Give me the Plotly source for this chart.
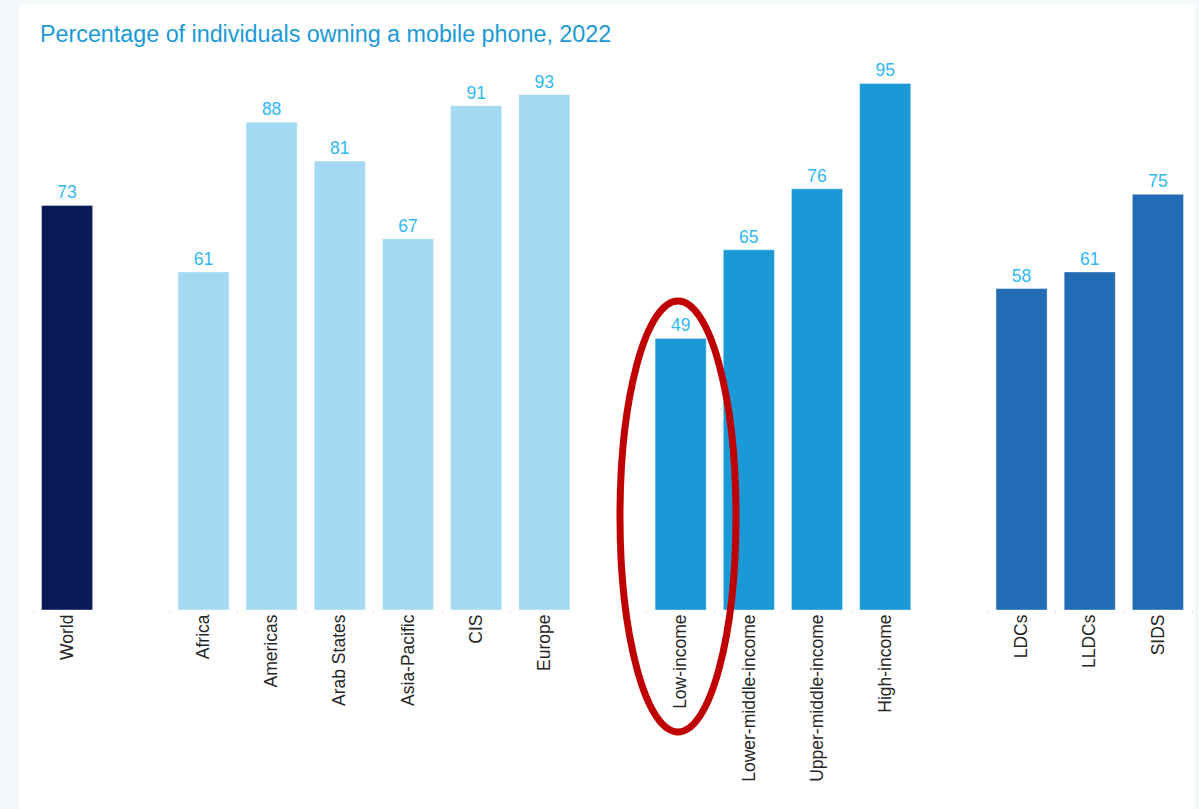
import plotly.graph_objects as go

# Data
world = ["World"]
world_values = [73]
regions = ["Africa", "Americas", "Arab States", "Asia-Pacific", "CIS", "Europe"]
region_values = [61, 88, 81, 67, 91, 93]
income = ["Low-income", "Lower-middle-income", "Upper-middle-income", "High-income"]
income_values = [49, 65, 76, 95]
groups = ["LDCs", "LLDCs", "SIDS"]
group_values = [58, 61, 75]

COL_WORLD = "#081b58"
COL_REGION = "#a3d9f2"
COL_INCOME = "#1a99d6"
COL_GROUP = "#226cb5"

# Empty slots separate the four groups on the category axis
gaps = ["_gap1", "_gap2", "_gap3"]
category_order = world + [gaps[0]] + regions + [gaps[1]] + income + [gaps[2]] + groups

W, H = 1199, 809
L, R, T, B = 33, 7, 58, 199
plot_w = W - L - R
plot_h = H - T - B


def px_x(x):
    return (x - L) / plot_w


def px_y(y):
    return (H - B - y) / plot_h


fig = go.Figure()

for names, vals, col in [
    (world, world_values, COL_WORLD),
    (regions, region_values, COL_REGION),
    (income, income_values, COL_INCOME),
    (groups, group_values, COL_GROUP),
]:
    fig.add_trace(go.Bar(
        x=names,
        y=vals,
        marker=dict(color=col, line=dict(color="rgba(255,255,255,0.4)", width=1)),
        text=[str(v) for v in vals],
        textposition="outside",
        textfont=dict(color="#2fb8f2", size=17.5, family="Liberation Sans, Arial, sans-serif"),
        constraintext="none",
        cliponaxis=False,
        showlegend=False,
        hoverinfo="x+y",
    ))

# Invisible trace that places the gap slots on the axis
fig.add_trace(go.Bar(x=gaps, y=[None] * len(gaps), showlegend=False, hoverinfo="skip"))

shapes = [
    # White panel behind the chart
    dict(type="rect", xref="paper", yref="paper",
         x0=px_x(19), x1=px_x(1195), y0=px_y(809), y1=px_y(4),
         fillcolor="white", line=dict(width=0), layer="below"),
    # Red ellipse highlighting the low-income bar
    dict(type="circle", xref="paper", yref="paper",
         x0=px_x(620), x1=px_x(736), y0=px_y(732), y1=px_y(301),
         fillcolor="rgba(0,0,0,0)", line=dict(color="#c00000", width=7), layer="above"),
]

fig.update_layout(
    width=W, height=H,
    margin=dict(l=L, r=R, t=T, b=B, pad=0),
    paper_bgcolor="#f3f8fb",
    plot_bgcolor="white",
    bargap=0.25,
    barmode="group",
    font=dict(family="Liberation Sans, Arial, sans-serif", color="#262626"),
    shapes=shapes,
    annotations=[dict(
        text="Percentage of individuals owning a mobile phone, 2022",
        xref="paper", yref="paper", x=px_x(38), y=px_y(34),
        xanchor="left", yanchor="middle", showarrow=False,
        font=dict(size=23.3, color="#1a99d6", family="Liberation Sans, Arial, sans-serif"),
    )],
    xaxis=dict(
        type="category",
        categoryorder="array",
        categoryarray=category_order,
        tickvals=world + regions + income + groups,
        ticktext=world + regions + income + groups,
        tickangle=-90,
        tickfont=dict(size=17.5, color="#262626"),
        ticks="outside", ticklen=3, tickcolor="#e6e6e6", tickson="boundaries",
        showline=False, showgrid=False, zeroline=False,
        fixedrange=True,
    ),
    yaxis=dict(
        range=[0, 99.6],
        visible=False,
        showgrid=False, zeroline=False,
        fixedrange=True,
    ),
)

fig.write_html("out.html")
